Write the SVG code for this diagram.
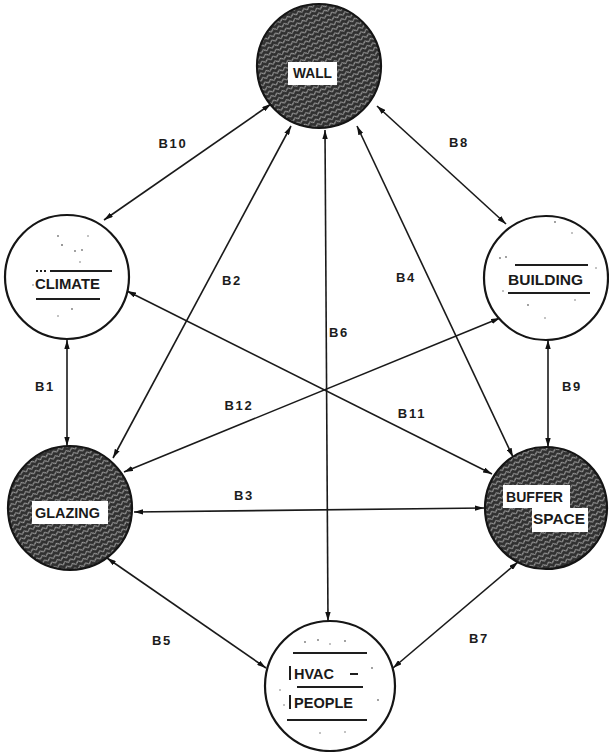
<svg xmlns="http://www.w3.org/2000/svg" width="609" height="752" viewBox="0 0 609 752">
  <style>
    .ring { stroke: #151515; stroke-width: 2.2; }
    .dark { fill: url(#knit); }
    .light { fill: #ffffff; }
    .name { font-family: "Liberation Sans", Arial, sans-serif; font-size: 14px; font-weight: bold; fill: #1a1a1a; }
    .tag { font-family: "Liberation Sans", Arial, sans-serif; font-size: 13px; font-weight: bold; fill: #1c1c1c; letter-spacing: 1.8px; text-anchor: middle; }
    .box { fill: #ffffff; }
    .rule { stroke: #1e1e1e; stroke-width: 2; fill: none; }
    .speck { fill: #777; }
    .link { stroke: #1a1a1a; stroke-width: 1.6; fill: none; marker-start: url(#tip); marker-end: url(#tip); }
  </style>
  <defs>
    <!-- woven dark texture for the shaded discs -->
    <pattern id="knit" width="6" height="5" patternUnits="userSpaceOnUse" patternTransform="rotate(-25)">
      <rect width="6" height="5" fill="#303030"/>
      <path d="M0 2.5 q1.5 -2.2 3 0 t3 0" fill="none" stroke="#d6d6d6" stroke-width="0.9"/>
    </pattern>
    <marker id="tip" viewBox="0 0 10 6" refX="10" refY="3" markerWidth="9" markerHeight="5.4" markerUnits="userSpaceOnUse" orient="auto-start-reverse">
      <path d="M0 0 L10 3 L0 6 Z" fill="#111"/>
    </marker>
  </defs>

  <rect width="609" height="752" fill="#ffffff"/>

  <!-- connectors -->
  <g id="connectors">
    <line class="link" x1="271" y1="104" x2="104" y2="220"/>
    <line class="link" x1="377" y1="106" x2="506" y2="224"/>
    <line class="link" x1="67" y1="340" x2="67" y2="446"/>
    <line class="link" x1="548" y1="340" x2="548" y2="447"/>
    <line class="link" x1="291" y1="126" x2="113" y2="458"/>
    <line class="link" x1="325" y1="130" x2="328" y2="621"/>
    <line class="link" x1="357" y1="126" x2="513" y2="457"/>
    <line class="link" x1="124" y1="472" x2="500" y2="318"/>
    <line class="link" x1="127" y1="291" x2="492" y2="474"/>
    <line class="link" x1="134" y1="512" x2="484" y2="508"/>
    <line class="link" x1="107" y1="558" x2="266" y2="668"/>
    <line class="link" x1="518" y1="562" x2="393" y2="668"/>
  </g>

  <!-- connector labels -->
  <g id="labels">
    <text class="tag" x="173" y="148">B10</text>
    <text class="tag" x="459" y="147">B8</text>
    <text class="tag" x="45" y="391">B1</text>
    <text class="tag" x="572" y="391">B9</text>
    <text class="tag" x="232" y="285">B2</text>
    <text class="tag" x="406" y="282">B4</text>
    <text class="tag" x="339" y="337">B6</text>
    <text class="tag" x="239" y="410">B12</text>
    <text class="tag" x="412" y="418">B11</text>
    <text class="tag" x="244" y="500">B3</text>
    <text class="tag" x="162" y="645">B5</text>
    <text class="tag" x="479" y="643">B7</text>
  </g>

  <!-- WALL -->
  <g id="wall">
    <circle class="ring dark" cx="319" cy="66" r="62"/>
    <rect class="box" x="288" y="62" width="49" height="23"/>
    <text class="name" x="293" y="78" textLength="39" lengthAdjust="spacingAndGlyphs">WALL</text>
  </g>

  <!-- CLIMATE -->
  <g id="climate">
    <circle class="ring light" cx="67" cy="277" r="62"/>
    <path class="rule" d="M50 271 H112" />
    <path class="rule" d="M36 271 H46" stroke-dasharray="2 2"/>
    <path class="rule" d="M36 299 H100"/>
    <text class="name" x="35" y="289" textLength="65" lengthAdjust="spacingAndGlyphs">CLIMATE</text>
    <circle class="speck" cx="58" cy="236" r="0.9"/>
    <circle class="speck" cx="62" cy="245" r="1"/>
    <circle class="speck" cx="75" cy="251" r="0.9"/>
    <circle class="speck" cx="82" cy="250" r="0.9"/>
    <circle class="speck" cx="88" cy="236" r="0.8"/>
    <circle class="speck" cx="80" cy="262" r="0.8"/>
    <circle class="speck" cx="72" cy="309" r="0.9"/>
    <circle class="speck" cx="58" cy="316" r="0.8"/>
    <circle class="speck" cx="33" cy="285" r="0.8"/>
  </g>

  <!-- BUILDING -->
  <g id="building">
    <circle class="ring light" cx="546" cy="278" r="62"/>
    <path class="rule" d="M515 265 H588"/>
    <path class="rule" d="M508 293 H590"/>
    <text class="name" x="508" y="285" textLength="75" lengthAdjust="spacingAndGlyphs">BUILDING</text>
    <circle class="speck" cx="555" cy="222" r="0.9"/>
    <circle class="speck" cx="572" cy="233" r="0.8"/>
    <circle class="speck" cx="500" cy="258" r="0.9"/>
    <circle class="speck" cx="506" cy="257" r="0.9"/>
    <circle class="speck" cx="503" cy="291" r="0.8"/>
    <circle class="speck" cx="528" cy="305" r="0.9"/>
    <circle class="speck" cx="545" cy="318" r="0.8"/>
    <circle class="speck" cx="575" cy="300" r="0.8"/>
    <circle class="speck" cx="596" cy="268" r="0.8"/>
  </g>

  <!-- GLAZING -->
  <g id="glazing">
    <circle class="ring dark" cx="70" cy="508" r="62"/>
    <rect class="box" x="32" y="501" width="76" height="23"/>
    <text class="name" x="35" y="518" textLength="65" lengthAdjust="spacingAndGlyphs">GLAZING</text>
  </g>

  <!-- BUFFER SPACE -->
  <g id="buffer-space">
    <circle class="ring dark" cx="546" cy="508" r="61"/>
    <path class="box" d="M503 485 H570 V508 H588 V532 H532 V508 H503 Z"/>
    <text class="name" x="506" y="502" textLength="57" lengthAdjust="spacingAndGlyphs">BUFFER</text>
    <text class="name" x="533" y="524" textLength="52" lengthAdjust="spacingAndGlyphs">SPACE</text>
  </g>

  <!-- HVAC / PEOPLE -->
  <g id="hvac-people">
    <circle class="ring light" cx="330" cy="686" r="65"/>
    <path class="rule" d="M293 653 H367"/>
    <path class="rule" d="M297 687 H363"/>
    <path class="rule" d="M287 720 H367"/>
    <path class="rule" d="M290 666 V680" stroke-width="1.4"/>
    <path class="rule" d="M290 695 V709" stroke-width="1.4"/>
    <path class="rule" d="M350 674 H358" stroke-width="1.6"/>
    <text class="name" x="294" y="679" textLength="40" lengthAdjust="spacingAndGlyphs">HVAC</text>
    <text class="name" x="294" y="708" textLength="59" lengthAdjust="spacingAndGlyphs">PEOPLE</text>
    <circle class="speck" cx="305" cy="642" r="0.9"/>
    <circle class="speck" cx="318" cy="640" r="0.9"/>
    <circle class="speck" cx="330" cy="644" r="0.8"/>
    <circle class="speck" cx="345" cy="641" r="0.9"/>
    <circle class="speck" cx="372" cy="668" r="0.9"/>
    <circle class="speck" cx="378" cy="700" r="0.9"/>
    <circle class="speck" cx="280" cy="690" r="0.8"/>
    <circle class="speck" cx="284" cy="705" r="0.8"/>
    <circle class="speck" cx="320" cy="733" r="0.8"/>
    <circle class="speck" cx="345" cy="732" r="0.8"/>
  </g>
</svg>
